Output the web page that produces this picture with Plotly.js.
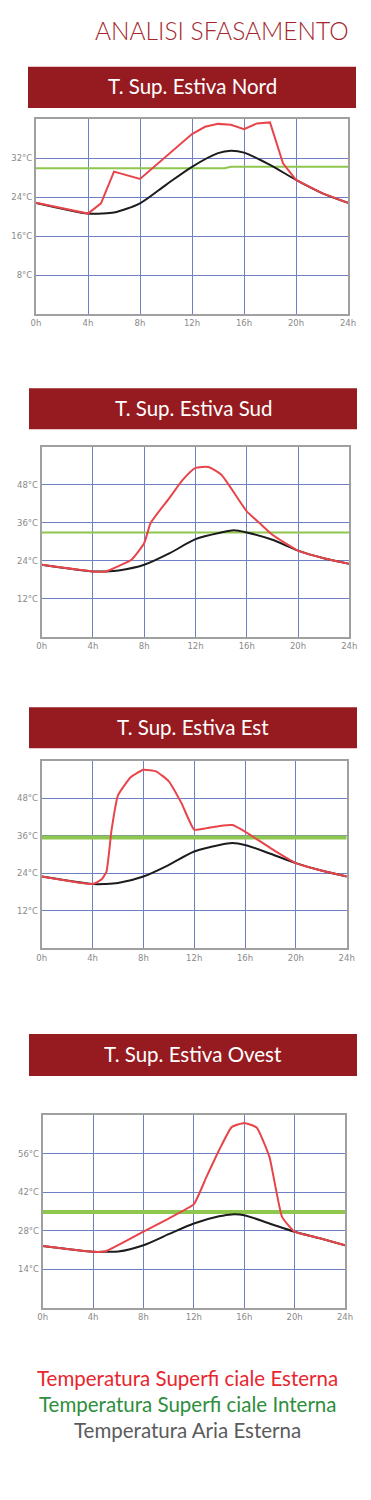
<!DOCTYPE html>
<html>
<head>
<meta charset="utf-8">
<script src="https://cdn.plot.ly/plotly-3.0.1.min.js"></script>
<style>
html,body{margin:0;padding:0;background:#fff;}
#chart{width:371px;height:1500px;}
</style>
</head>
<body>
<div id="chart"></div>
<script>
// ---------- DATA ----------
const pageTitle = "ANALISI SFASAMENTO";
const chartTitles = ["T. Sup. Estiva Nord", "T. Sup. Estiva Sud", "T. Sup. Estiva Est", "T. Sup. Estiva Ovest"];
const legendLabels = ["Temperatura Superfi ciale Esterna", "Temperatura Superfi ciale Interna", "Temperatura Aria Esterna"];

const hourTicks = [0, 4, 8, 12, 16, 20, 24];
const hourLabels = ["0h", "4h", "8h", "12h", "16h", "20h", "24h"];

// Nord
const nordTempTicks = [8, 16, 24, 32];
const nordTempLabels = ["8°C", "16°C", "24°C", "32°C"];
const nordRedHours = [0, 4, 5, 6, 8, 10, 12, 13, 14, 15, 16, 17, 18, 19, 20, 22, 24];
const nordRed = [22.8, 20.6, 22.7, 29.2, 27.7, 32.3, 36.9, 38.4, 39.0, 38.8, 37.9, 39.1, 39.3, 30.9, 27.5, 24.8, 22.8];
const nordAirHours = [0, 4, 5, 6, 8, 10, 12, 14, 15, 16, 18, 20, 22, 24];
const nordAir = [22.8, 20.6, 20.6, 20.8, 22.7, 26.5, 30.2, 33.0, 33.5, 33.1, 30.6, 27.5, 24.8, 22.8];
const nordGreenHours = [0, 14.5, 15, 24];
const nordGreen = [29.9, 29.9, 30.2, 30.2];

// Sud
const sudTempTicks = [12, 24, 36, 48];
const sudTempLabels = ["12°C", "24°C", "36°C", "48°C"];
const sudRedHours = [0, 4, 5, 6, 7, 8, 8.5, 10, 11, 12, 13, 14, 16, 17, 18, 20, 22, 24];
const sudRed = [22.7, 20.6, 20.6, 22.3, 24.3, 29.6, 35.9, 44.0, 49.5, 53.3, 53.6, 51.2, 39.6, 35.9, 32.2, 27.2, 24.8, 23.0];
const sudAirHours = [0, 4, 5, 6, 8, 10, 12, 14, 15, 16, 18, 20, 22, 24];
const sudAir = [22.7, 20.6, 20.6, 20.9, 22.7, 26.4, 30.8, 32.9, 33.6, 32.9, 30.6, 27.2, 24.8, 23.0];
const sudGreenHours = [0, 24];
const sudGreen = [32.9, 32.9];

// Est
const estTempTicks = [12, 24, 36, 48];
const estTempLabels = ["12°C", "24°C", "36°C", "48°C"];
const estRedHours = [0, 4, 4.7, 5.1, 5.5, 6, 7, 8, 9, 10, 11, 12, 13, 14, 15, 16, 18, 20, 22, 24];
const estRed = [23.0, 20.6, 22.0, 24.6, 38.0, 49.0, 54.8, 57.2, 56.7, 53.5, 46.5, 38.0, 38.5, 39.2, 39.5, 37.4, 32.1, 27.3, 24.9, 23.0];
const estAirHours = [0, 4, 5, 6, 8, 10, 12, 14, 15, 16, 18, 20, 22, 24];
const estAir = [23.0, 20.6, 20.6, 20.9, 23.0, 26.7, 31.0, 33.1, 33.7, 33.1, 30.3, 27.3, 24.9, 23.0];
const estGreenHours = [0, 24];
const estGreen = [35.5, 35.5];

// Ovest
const ovestTempTicks = [14, 28, 42, 56];
const ovestTempLabels = ["14°C", "28°C", "42°C", "56°C"];
const ovestRedHours = [0, 4, 5, 8, 10, 12, 13, 14, 15, 16, 17, 18, 19, 20, 22, 24];
const ovestRed = [22.4, 20.3, 20.5, 27.6, 32.4, 37.6, 47.5, 57.2, 65.6, 67.1, 65.4, 54.8, 33.0, 27.6, 25.2, 22.7];
const ovestAirHours = [0, 4, 5, 6, 8, 10, 12, 14, 15, 16, 18, 20, 22, 24];
const ovestAir = [22.4, 20.3, 20.3, 20.4, 22.7, 26.7, 30.6, 33.2, 33.9, 33.6, 30.6, 27.6, 25.2, 22.7];
const ovestGreenHours = [0, 24];
const ovestGreen = [34.8, 34.8];

// ---------- LAYOUT HELPERS ----------
const W = 371, H = 1500;
const px = v => v / W;
const py = v => 1 - v / H;

const RED = "#e8454a", GREEN = "#8fc64e", BLACK = "#1c1c1c";
const GRID = "#6f80c2", FRAME = "#a0a0a0", TICKC = "#8a8a8a";
const BAR = "#961b20";

const panels = [
  {title: chartTitles[0], bar: [28, 356, 66.7, 108], box: [36, 348, 119, 314], yr: [0, 40],
   yt: nordTempTicks, yl: nordTempLabels, rs: 0,
   red: [nordRedHours, nordRed], air: [nordAirHours, nordAir], green: [nordGreenHours, nordGreen], gw: 2},
  {title: chartTitles[1], bar: [29, 357, 388.3, 429.3], box: [41.7, 349.3, 446.7, 636.7], yr: [0, 60],
   yt: sudTempTicks, yl: sudTempLabels, rs: 0.5,
   red: [sudRedHours, sudRed], air: [sudAirHours, sudAir], green: [sudGreenHours, sudGreen], gw: 2},
  {title: chartTitles[2], bar: [29, 357, 707.3, 748.3], box: [41.7, 346.7, 761, 948.3], yr: [0, 60],
   yt: estTempTicks, yl: estTempLabels, rs: 0.4,
   red: [estRedHours, estRed], air: [estAirHours, estAir], green: [estGreenHours, estGreen], gw: 4},
  {title: chartTitles[3], bar: [29, 357, 1034, 1076], box: [42.7, 345, 1115, 1307.7], yr: [0, 70],
   yt: ovestTempTicks, yl: ovestTempLabels, rs: 0.4,
   red: [ovestRedHours, ovestRed], air: [ovestAirHours, ovestAir], green: [ovestGreenHours, ovestGreen], gw: 4}
];

const data = [];
const layout = {
  width: W, height: H,
  margin: {l: 0, r: 0, t: 0, b: 0, pad: 0},
  paper_bgcolor: "#ffffff", plot_bgcolor: "#ffffff",
  showlegend: false,
  shapes: [], annotations: []
};

panels.forEach((p, i) => {
  const n = i === 0 ? "" : String(i + 1);
  const xa = "x" + n, ya = "y" + n;
  data.push({x: p.green[0], y: p.green[1], xaxis: xa, yaxis: ya, mode: "lines", line: {color: GREEN, width: p.gw}, hoverinfo: "skip"});
  data.push({x: p.air[0], y: p.air[1], xaxis: xa, yaxis: ya, mode: "lines", line: {color: BLACK, width: 2, shape: "spline", smoothing: 0.8}, hoverinfo: "skip"});
  const redLine = p.rs > 0 ? {color: RED, width: 2, shape: "spline", smoothing: p.rs} : {color: RED, width: 2};
  data.push({x: p.red[0], y: p.red[1], xaxis: xa, yaxis: ya, mode: "lines", line: redLine, hoverinfo: "skip"});

  layout["xaxis" + n] = {
    domain: [px(p.box[0]), px(p.box[1])], range: [0, 24], anchor: ya,
    tickvals: hourTicks, ticktext: hourLabels, ticks: "",
    showgrid: true, gridcolor: GRID, gridwidth: 1, zeroline: false,
    showline: true, linecolor: FRAME, linewidth: 2, mirror: true,
    tickfont: {family: "DejaVu Sans", size: 8.5, color: TICKC}, fixedrange: true
  };
  layout["yaxis" + n] = {
    domain: [py(p.box[3]), py(p.box[2])], range: p.yr, anchor: xa,
    tickvals: p.yt, ticktext: p.yl, ticks: "",
    showgrid: true, gridcolor: GRID, gridwidth: 1, zeroline: false,
    showline: true, linecolor: FRAME, linewidth: 2, mirror: true,
    tickfont: {family: "DejaVu Sans", size: 8.5, color: TICKC}, fixedrange: true
  };

  layout.shapes.push({type: "rect", xref: "paper", yref: "paper",
    x0: px(p.bar[0]), x1: px(p.bar[1]), y0: py(p.bar[3]), y1: py(p.bar[2]),
    fillcolor: BAR, line: {width: 0}, layer: "below"});
  layout.annotations.push({xref: "paper", yref: "paper",
    x: px((p.bar[0] + p.bar[1]) / 2), y: py((p.bar[2] + p.bar[3]) / 2 - 1),
    xanchor: "center", yanchor: "middle", showarrow: false,
    text: p.title, font: {family: "Lato", size: 20.5, color: "#ffffff"}});
});

layout.annotations.push({xref: "paper", yref: "paper", x: px(351), y: py(31),
  xanchor: "right", yanchor: "middle", showarrow: false, text: pageTitle,
  font: {family: "Lato", size: 24.5, weight: 300, color: "#a3272d"}});

const legendColors = ["#e8262d", "#2e8e3c", "#5b5b5b"];
const legendY = [1378, 1404, 1430];
legendLabels.forEach((t, i) => {
  layout.annotations.push({xref: "paper", yref: "paper", x: px(188), y: py(legendY[i]),
    xanchor: "center", yanchor: "middle", showarrow: false, text: t,
    font: {family: "Lato", size: 20.5, color: legendColors[i]}});
});

Plotly.newPlot("chart", data, layout, {staticPlot: true, displayModeBar: false});
</script>
</body>
</html>
